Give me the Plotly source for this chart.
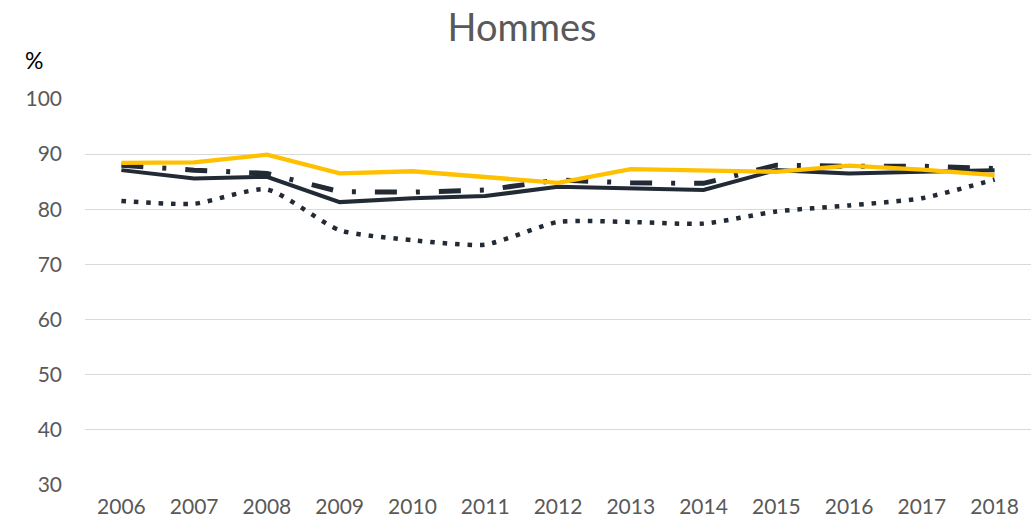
import plotly.graph_objects as go

years = ["2006", "2007", "2008", "2009", "2010", "2011", "2012",
         "2013", "2014", "2015", "2016", "2017", "2018"]
serie_pointillee = [81.5, 81.0, 83.6, 76.2, 74.4, 73.6, 77.7, 77.7, 77.4, 79.6, 80.7, 82.0, 85.4]
serie_pleine = [87.1, 85.6, 85.9, 81.3, 82.0, 82.4, 84.1, 83.8, 83.5, 87.1, 86.5, 86.8, 87.1]
serie_tiretee = [88.0, 87.1, 86.5, 83.2, 83.1, 83.5, 85.3, 84.8, 84.7, 88.0, 87.8, 87.8, 87.4]
serie_jaune = [88.4, 88.5, 89.9, 86.5, 86.9, 85.9, 84.8, 87.3, 87.0, 86.8, 87.9, 87.2, 86.2]
y_ticks = [30, 40, 50, 60, 70, 80, 90, 100]

DARK = "#222a35"
YELLOW = "#FFC000"
FONT = "Lato, Open Sans, sans-serif"

W, H = 1031, 528
ML, MR, MT, MB = 85, 0, 99, 43

fig = go.Figure()
fig.add_trace(go.Scatter(x=years, y=serie_pointillee, mode="lines", name="Série 1",
                         line=dict(color=DARK, width=4.5, dash="4.5px,7.9px", shape="spline", smoothing=0.6)))
fig.add_trace(go.Scatter(x=years, y=serie_pleine, mode="lines", name="Série 2",
                         line=dict(color=DARK, width=4)))
fig.add_trace(go.Scatter(x=years, y=serie_tiretee, mode="lines", name="Série 3",
                         line=dict(color=DARK, width=5, dash="22px,19px,4px,19px")))
fig.add_trace(go.Scatter(x=years, y=serie_jaune, mode="lines", name="Série 4",
                         line=dict(color=YELLOW, width=4.3)))

pw = W - ML - MR
ph = H - MT - MB
fig.update_layout(
    width=W, height=H,
    margin=dict(l=ML, r=MR, t=MT, b=MB),
    paper_bgcolor="white", plot_bgcolor="white",
    showlegend=False,
    font=dict(family=FONT, color="#595959", size=21),
    title=dict(text="Hommes", x=522 / W, xanchor="center", y=1 - 28 / H, yanchor="middle",
               font=dict(family=FONT, size=38, color="#595959")),
    annotations=[dict(text="%", x=(34 - ML) / pw, y=(H - MB - 60) / ph,
                      xref="paper", yref="paper", showarrow=False,
                      xanchor="center", yanchor="middle",
                      font=dict(family=FONT, size=23, color="black"))],
)

fig.update_xaxes(type="category", range=[-0.5, 12.5], showgrid=False, showline=False,
                 ticks="", tickfont=dict(size=21, color="#595959"), ticklabelstandoff=7)
fig.update_yaxes(range=[30, 100], tickvals=y_ticks, showgrid=True, gridcolor="#d9d9d9",
                 gridwidth=1.3, zeroline=False, showline=False, ticks="",
                 tickfont=dict(size=21, color="#595959"), ticklabelstandoff=22)

fig.write_html("out.html", config={"displayModeBar": False},
               post_script="document.body.style.margin='0';")
